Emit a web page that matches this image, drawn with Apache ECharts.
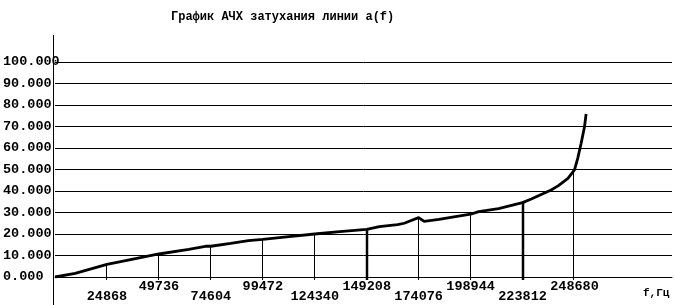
<!DOCTYPE html>
<html>
<head>
<meta charset="utf-8">
<script src="https://cdn.jsdelivr.net/npm/echarts@6/dist/echarts.min.js"></script>
<style>
html,body{margin:0;padding:0;background:#fff;}
#chart{width:675px;height:305px;}
</style>
</head>
<body>
<div id="chart"></div>
<script>
// ---- data ----
const chartTitle = 'График АЧХ затухания линии a(f)';
const xAxisName = 'f,Гц';
const yTickLabels = ['0.000','10.000','20.000','30.000','40.000','50.000','60.000','70.000','80.000','90.000','100.000'];
const tickFreqs = [24868, 49736, 74604, 99472, 124340, 149208, 174076, 198944, 223812, 248680];
const tickAtten = [5.9, 10.7, 14.3, 17.5, 20.0, 22.2, 27.6, 29.2, 34.6, 49.8];
const curveFreq = [0, 9640, 24868, 35000, 49736, 64000, 72000, 74604, 84066, 92600, 99472, 112000, 124340, 136300, 149208, 150100, 155300, 164000, 167200, 170500, 174076, 176700, 183800, 198944, 202800, 212300, 223812, 228000, 237500, 241000, 245550, 248680, 250250, 251870, 253480, 254240];
const curveAtten = [0, 1.7, 5.9, 7.9, 10.7, 12.9, 14.3, 14.3, 15.6, 16.9, 17.5, 18.8, 20.0, 21.1, 22.2, 22.8, 23.4, 24.4, 25.0, 26.3, 27.6, 25.9, 26.8, 29.2, 30.4, 31.8, 34.6, 36.3, 40.5, 42.5, 45.9, 49.8, 55.3, 62.2, 69.9, 75.8];
const thickTicks = [149208, 223812];

// ---- layout ----
const G = {left: 53, right: 0, top: 62, bottom: 28};
const W = 675, H = 305;
const xStep = 24868;
const xMax = 295360;
const monoFont = '"Liberation Mono", "DejaVu Sans Mono", monospace';

const chart = echarts.init(document.getElementById('chart'), null, {renderer: 'canvas'});

const tickSet = new Set(tickFreqs);

chart.setOption({
  animation: false,
  backgroundColor: '#fff',
  title: [
    {text: chartTitle, left: 166, top: 6,
     textStyle: {fontFamily: monoFont, fontWeight: 'bold', fontSize: 12, color: '#000'}},
    {text: xAxisName, left: 638, top: 283,
     textStyle: {fontFamily: monoFont, fontWeight: 'bold', fontSize: 11, color: '#000'}}
  ],
  grid: {left: G.left, right: G.right, top: G.top, bottom: G.bottom, containLabel: false},
  xAxis: {
    type: 'value', min: 0, max: xMax, interval: xStep,
    axisLine: {show: true, lineStyle: {color: '#000', width: 1}},
    axisTick: {show: false},
    splitLine: {show: false},
    axisLabel: {
      showMinLabel: true, showMaxLabel: true,
      margin: 5, lineHeight: 10,
      fontFamily: monoFont, fontWeight: 'bold', fontSize: 13.5, color: '#000',
      formatter: function (v) {
        const r = Math.round(v);
        if (!tickSet.has(r)) return '';
        const idx = tickFreqs.indexOf(r);
        return (idx % 2 === 0) ? '\n' + r : String(r);
      }
    }
  },
  yAxis: {
    type: 'value', min: 0, max: 100, interval: 10,
    axisLine: {show: false},
    axisTick: {show: false},
    splitLine: {show: true, lineStyle: {color: '#000', width: 1}},
    axisLabel: {
      align: 'left', margin: 52,
      fontFamily: monoFont, fontWeight: 'bold', fontSize: 13.5, color: '#000',
      formatter: function (v) { return yTickLabels[Math.round(v / 10)] || ''; }
    }
  },
  graphic: [
    {type: 'line', shape: {x1: G.left + 0.5, y1: 35, x2: G.left + 0.5, y2: H}, style: {stroke: '#000', lineWidth: 1}, z: 100}
  ],
  series: [
    {
      type: 'line',
      data: curveFreq.map((f, i) => [f, curveAtten[i]]),
      symbol: 'none',
      smooth: false,
      lineStyle: {color: '#000', width: 2.8},
      z: 5
    },
    {
      type: 'custom',
      clip: false,
      data: tickFreqs.map((f, i) => [f, tickAtten[i]]),
      renderItem: function (params, api) {
        const f = api.value(0);
        const top = api.coord([f, api.value(1)]);
        const bot = api.coord([f, 0]);
        const thick = thickTicks.indexOf(f) >= 0;
        const x = thick ? Math.round(top[0]) : Math.round(top[0]) - 0.5;
        return {
          type: 'line',
          shape: {x1: x, y1: top[1], x2: x, y2: bot[1] + 3},
          style: {stroke: '#000', lineWidth: thick ? 2.5 : 1}
        };
      },
      z: 4
    }
  ]
});
</script>
</body>
</html>
